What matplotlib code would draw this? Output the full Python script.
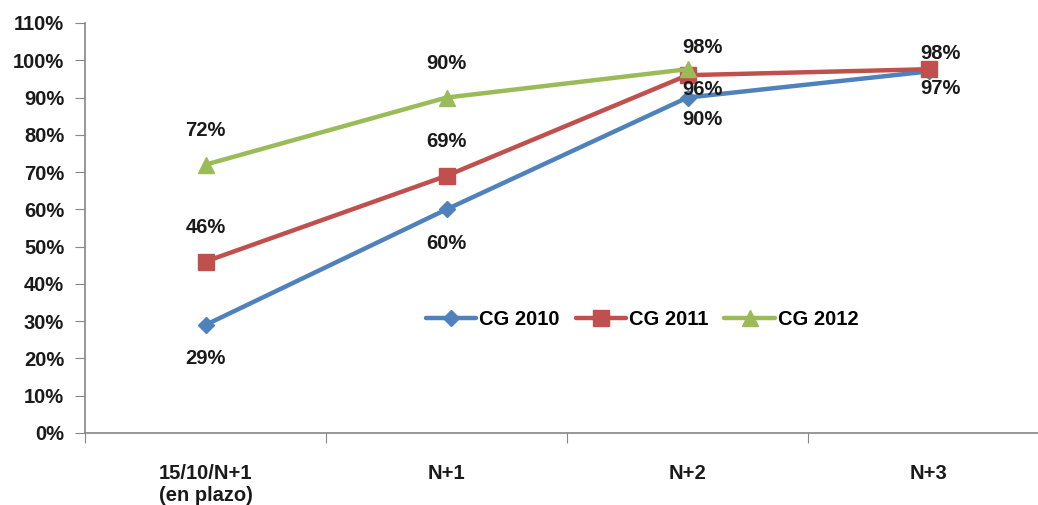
import matplotlib
matplotlib.use("Agg")
import matplotlib.pyplot as plt

categories = ["15/10/N+1\n(en plazo)", "N+1", "N+2", "N+3"]
series_names = ["CG 2010", "CG 2011", "CG 2012"]
cg2010 = [29, 60, 90, 97]
cg2011 = [46, 69, 96, 97.6]
cg2012 = [72, 90, 97.6]
yticks = list(range(0, 111, 10))

colors = ["#4F81BD", "#C0504D", "#9BBB59"]
markers = ["D", "s", "^"]
msizes = [8, 11, 11]
offsets = [
    [(0, -34), (0, -34), (15, -22), (12, -17)],
    [(0, 34), (0, 34), (15, -14), (12, 16)],
    [(0, 34), (0, 34), (15, 22)],
]

fs = 14.5
plt.rcParams['font.family'] = ['Liberation Sans', 'DejaVu Sans']
plt.rcParams['font.weight'] = 'bold'

fig = plt.figure(figsize=(10.38, 5.05), dpi=100)
ax = fig.add_axes([85/1038, 1-433/505, (1049-85)/1038, (433-23)/505])

all_series = [cg2010, cg2011, cg2012]
for name, vals, c, m, ms, offs in zip(series_names, all_series, colors, markers, msizes, offsets):
    xs = list(range(len(vals)))
    ax.plot(xs, vals, color=c, lw=3.2, marker=m, markersize=ms, label=name,
            solid_capstyle='round')
    for x, v, (dx, dy) in zip(xs, vals, offs):
        ax.annotate(f"{round(v):d}%", (x, v), xytext=(dx, dy), textcoords='offset pixels',
                    ha='center', va='center', fontsize=fs, fontweight='bold', color='#1a1a1a')

ax.set_xlim(-0.5, 3.5)
ax.set_ylim(0, 110)
ax.set_yticks(yticks)
ax.set_yticklabels([f"{t}%" for t in yticks], fontsize=fs, fontweight='bold', color='#1a1a1a')
ax.set_xticks([-0.5, 0.5, 1.5, 2.5, 3.5])
ax.set_xticklabels([])
ax.set_xticks(range(len(categories)), minor=True)
ax.set_xticklabels(categories, minor=True, fontsize=fs, fontweight='bold', color='#1a1a1a',
                   linespacing=1.25)
ax.tick_params(axis='x', which='minor', length=0, pad=22)
ax.tick_params(axis='x', which='major', length=7, color='#868686', direction='out')
ax.tick_params(axis='y', length=7, color='#868686', pad=8)
for s in ['top', 'right']:
    ax.spines[s].set_visible(False)
for s in ['left', 'bottom']:
    ax.spines[s].set_color('#868686')
    ax.spines[s].set_linewidth(1.2)

leg = ax.legend(loc='center', bbox_to_anchor=((642-85)/(1049-85), (433-320)/(433-23)),
                ncol=3, frameon=False, fontsize=fs, handlelength=2.5, columnspacing=0.8,
                handletextpad=0.15)
for t in leg.get_texts():
    t.set_fontweight('bold')

fig.savefig("out.png", dpi=100)
